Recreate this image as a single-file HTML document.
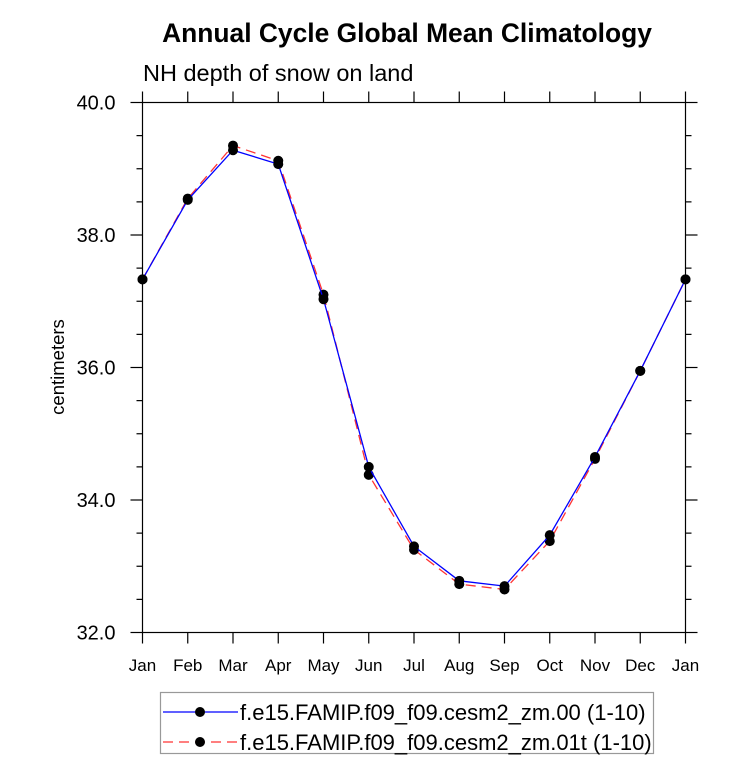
<!DOCTYPE html>
<html><head><meta charset="utf-8"><style>
body{margin:0;background:#fff;font-family:"Liberation Sans",sans-serif}
</style></head><body>
<svg width="733" height="769" id="chart" font-family="Liberation Sans, sans-serif">
<text x="407" y="42" text-anchor="middle" font-size="26.4" font-weight="bold">Annual Cycle Global Mean Climatology</text>
<text x="143" y="81" font-size="23.5">NH depth of snow on land</text>
<text transform="translate(64,367) rotate(-90)" text-anchor="middle" font-size="18.5">centimeters</text>
<rect x="142.5" y="102.5" width="543" height="530" fill="none" stroke="#000" stroke-width="1.2"/>
<g id="axes"></g><g id="series"></g>
<g>
<rect x="160.5" y="692.5" width="493" height="61" fill="none" stroke="#999" stroke-width="1.2"/>
<g>
<line x1="163" y1="712" x2="238" y2="712" stroke="#00f" stroke-width="1.3"/>
<circle cx="200" cy="712" r="5" fill="#000"/>
<text x="240" y="720" font-size="22">f.e15.FAMIP.f09_f09.cesm2_zm.00 (1-10)</text></g>
<g>
<line x1="163" y1="742" x2="238" y2="742" stroke="#f33" stroke-width="1.3" stroke-dasharray="10,6"/>
<circle cx="200" cy="742" r="5" fill="#000"/>
<text x="240" y="750" font-size="22">f.e15.FAMIP.f09_f09.cesm2_zm.01t (1-10)</text></g>
</g>
</svg>
<script>
const months=["Jan","Feb","Mar","Apr","May","Jun","Jul","Aug","Sep","Oct","Nov","Dec","Jan"];
const yTicks=[32,34,36,38,40];
const series00=[37.33,38.53,39.28,39.07,37.03,34.5,33.3,32.78,32.7,33.47,34.65,35.95,37.33];
const series01t=[37.33,38.55,39.35,39.12,37.1,34.38,33.25,32.73,32.65,33.38,34.62,35.95,37.33];
const NS="http://www.w3.org/2000/svg";
const L=142.5,R=685.5,T=102.5,B=632.5,ymin=32,ymax=40;
const xs=i=>L+(R-L)*i/(months.length-1);
const ys=v=>B-(B-T)*(v-ymin)/(ymax-ymin);
function mk(t,a,p){const e=document.createElementNS(NS,t);for(const k in a)e.setAttribute(k,a[k]);p.appendChild(e);return e;}
const ax=document.getElementById('axes');
months.forEach((m,i)=>{const x=xs(i);
 mk('line',{x1:x,y1:B,x2:x,y2:B+11,stroke:'#000','stroke-width':1.2},ax);
 mk('line',{x1:x,y1:T,x2:x,y2:T-11,stroke:'#000','stroke-width':1.2},ax);
 const t=mk('text',{x:x,y:671,'text-anchor':'middle','font-size':17},ax);t.textContent=m;
 
 
});
for(let v=ymin;v<=ymax+1e-9;v+=0.5){const y=ys(v);const major=Math.abs(v-Math.round(v/2)*2)<1e-9;const len=major?12:6;
 mk('line',{x1:L,y1:y,x2:L-len,y2:y,stroke:'#000','stroke-width':1.2},ax);
 mk('line',{x1:R,y1:y,x2:R+len,y2:y,stroke:'#000','stroke-width':1.2},ax);}
yTicks.forEach(v=>{const t=mk('text',{x:L-27,y:ys(v)+7,'text-anchor':'end','font-size':20},ax);t.textContent=v.toFixed(1);
 
 });
const sg=document.getElementById('series');
function draw(vals,color,dash,name){const g=mk('g',{},sg);
 
 
 const pts=vals.map((v,i)=>xs(i)+','+ys(v)).join(' ');
 const a={points:pts,fill:'none',stroke:color,'stroke-width':1.3};if(dash)a['stroke-dasharray']=dash;
 mk('polyline',a,g);
 vals.forEach((v,i)=>{const c=mk('circle',{cx:xs(i),cy:ys(v),r:5,fill:'#000'},g);
  
  });}
draw(series01t,'#f33','10,6','series-01t');
draw(series00,'#00f',null,'series-00');
</script>
</body></html>
